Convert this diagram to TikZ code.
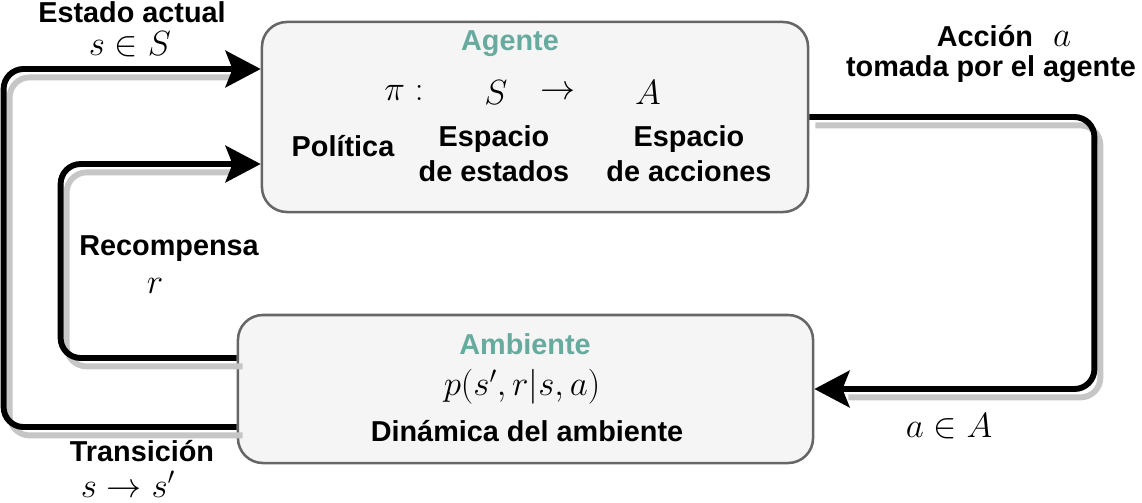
\documentclass[tikz,border=0pt]{standalone}
\usepackage{fontspec}
\setmainfont{Liberation Sans}
\usetikzlibrary{arrows.meta}
\definecolor{boxfill}{HTML}{F5F5F5}
\definecolor{boxline}{HTML}{666666}
\definecolor{tealtxt}{HTML}{67AB9F}
\newcommand{\mfs}{\fontsize{23}{27}\selectfont}
\begin{document}
\begin{tikzpicture}[x=0.025cm, y=-0.025cm,
    every node/.style={font=\fontsize{20.5}{25}\selectfont\bfseries, inner sep=0pt},
    bloque/.style={draw=boxline, fill=boxfill, line width=1.8pt, rounded corners=0.625cm},
    flow/.style={line width=4.2pt, rounded corners=0.5cm, -{Stealth[length=25pt, width=26pt, inset=5pt]}},
    sombra/.style={line width=4.2pt, gray!45, rounded corners=0.5cm, shorten >=20pt,
        transform canvas={shift={(0.15cm,-0.21cm)}}},
    titulo/.style={text=tealtxt}]
            \useasboundingbox (0,0) rectangle (1142,502);
            \node[bloque, minimum width=13.65cm, minimum height=4.75cm] (ag) at (535,117) {};
            \node[bloque, minimum width=14.375cm, minimum height=3.7cm] (amb) at (525.5,389) {};
            % agente
            \node[titulo] (agtit) at (510,44) {Agente};
            \node (pi) at (404,93) {\mfs$\pi:$};
            \node (espS) at (496,93) {\mfs$S$};
            \node (flecha) at (558,93) {\mfs$\rightarrow$};
            \node (espA) at (648,93) {\mfs$A$};
            \node (pol) at (343,146) {Política};
            \node[align=center] (estados) at (494,154) {Espacio\\de estados};
            \node[align=center] (acciones) at (689,154) {Espacio\\de acciones};
            % ambiente
            \node[titulo] (ambtit) at (525,344) {Ambiente};
            \node (din) at (522,387) {\mfs$p(s',r|s,a)$};
            \node (dintxt) at (527,431) {Dinámica del ambiente};
            % conectores, sombra primero
            \draw[sombra] ([yshift=-0.95cm]amb.west) -- ++(-5.825cm,0) |- ([yshift=1.2cm]ag.west);
            \draw[sombra] ([yshift=0.775cm]amb.west) -- ++(-4.4cm,0) |- ([yshift=-1.175cm]ag.west);
            \draw[sombra] (ag.east) -- ++(7.125cm,0) |- (amb.east);
            \draw[flow] ([yshift=-0.95cm]amb.west) -- ++(-5.825cm,0) |- ([yshift=1.2cm]ag.west);
            \draw[flow] ([yshift=0.775cm]amb.west) -- ++(-4.4cm,0) |- ([yshift=-1.175cm]ag.west);
            \draw[flow] (ag.east) -- ++(7.125cm,0) |- (amb.east);
            % etiquetas
            \node (estado) at (132,12) {Estado actual};
            \node (sS) at (130,44) {\mfs$s\in S$};
            \node (recomp) at (169,249) {Recompensa};
            \node (rr) at (155,286) {\mfs$r$};
            \node (trans) at (142,451) {Transición};
            \node (ss) at (128,484) {\mfs$s\rightarrow s'$};
            \node (accion) at (1004,36) {Acción\hspace{0.7em}\mfs$a$};
            \node (tomada) at (991,69) {tomada por el agente};
            \node (aenA) at (949,426) {\mfs$a\in A$};
        \end{tikzpicture}
\end{document}
